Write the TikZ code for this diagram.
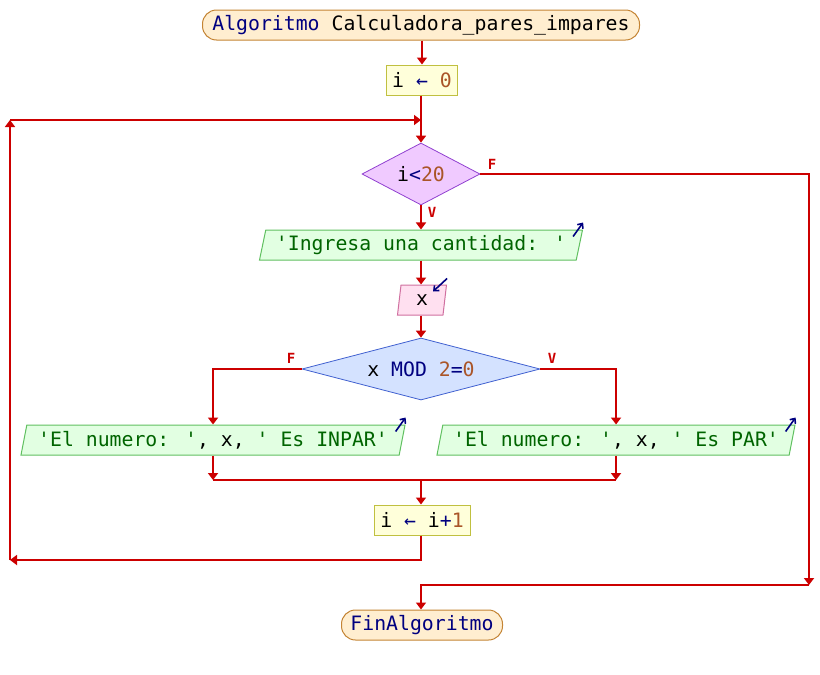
\documentclass[tikz,border=0pt]{standalone}
\usepackage{fontspec}
\usetikzlibrary{arrows.meta,shapes.geometric}
\newfontfamily\pmono{DejaVu Sans Mono}
\newcommand{\qs}{\textquotesingle}
\definecolor{flujo}{RGB}{204,0,0}
\definecolor{azul}{RGB}{0,0,128}
\definecolor{cafe}{RGB}{170,85,40}
\definecolor{verde}{RGB}{0,100,0}
\definecolor{termfondo}{RGB}{255,238,208}
\definecolor{termborde}{RGB}{196,132,52}
\definecolor{asigfondo}{RGB}{255,255,218}
\definecolor{asigborde}{RGB}{192,192,64}
\definecolor{condfondo}{RGB}{240,202,255}
\definecolor{condborde}{RGB}{144,64,208}
\definecolor{modfondo}{RGB}{212,226,255}
\definecolor{modborde}{RGB}{64,96,208}
\definecolor{salfondo}{RGB}{226,255,226}
\definecolor{salborde}{RGB}{96,192,96}
\definecolor{entfondo}{RGB}{255,224,240}
\definecolor{entborde}{RGB}{208,112,160}
\tikzstyle{flecha}=[draw=flujo,line width=2pt,-{Triangle[length=7pt,width=10pt]}]
\tikzstyle{linea}=[draw=flujo,line width=2pt]
\tikzstyle{term}=[rectangle,rounded corners=14pt,draw=termborde,fill=termfondo,line width=1pt,minimum height=30pt,inner sep=0pt]
\tikzstyle{asig}=[rectangle,draw=asigborde,fill=asigfondo,line width=1pt,minimum height=30pt,inner sep=0pt]
\tikzstyle{decis}=[diamond,line width=0.8pt,minimum height=62pt,inner sep=0pt]
\tikzstyle{paral}=[trapezium,trapezium left angle=72,trapezium right angle=108,trapezium stretches body,line width=1pt,minimum height=30pt,inner sep=0pt]
\tikzstyle{salida}=[paral,draw=salborde,fill=salfondo]
\tikzstyle{entrada}=[paral,draw=entborde,fill=entfondo]
\tikzstyle{marca}=[draw=azul,line width=1.6pt,-{Straight Barb[length=4pt,width=7pt]}]
\tikzstyle{etiq}=[text=flujo,font=\pmono\bfseries\fontsize{14}{14}\selectfont,inner sep=0pt]

\begin{document}
\begin{tikzpicture}[x=1pt,y=-1pt,font=\pmono\fontsize{19.8}{22}\selectfont]
\useasboundingbox (0,0) rectangle (820,675);
\node[term,minimum width=437pt] (inicio) at (421,25) {{\color{azul}Algoritmo} Calculadora\_pares\_impares};
\node[asig,minimum width=71pt] (i0) at (422,80) {i {\color{azul}←} {\color{cafe}0}};
\node[decis,aspect=1.9,draw=condborde,fill=condfondo,minimum width=118pt] (cond) at (421,174) {i{\color{azul}<}{\color{cafe}20}};
\node[salida,minimum width=323pt] (ing) at (421,245) {{\color{verde}\qs Ingresa una cantidad: \qs}};
\node[entrada,minimum width=49pt] (lee) at (422,300) {x};
\node[decis,aspect=3.84,draw=modborde,fill=modfondo,minimum width=238pt] (mod) at (421,369) {x {\color{azul}MOD} {\color{cafe}2}{\color{azul}=}{\color{cafe}0}};
\node[salida,minimum width=384pt] (inpar) at (213,440) {{\color{verde}\qs El numero: \qs}, x, {\color{verde}\qs{} Es INPAR\qs}};
\node[salida,minimum width=358pt] (par) at (616,440) {{\color{verde}\qs El numero: \qs}, x, {\color{verde}\qs{} Es PAR\qs}};
\node[asig,minimum width=96pt] (inc) at (422,520) {i {\color{azul}←} i{\color{azul}+}{\color{cafe}1}};
\node[term,minimum width=161pt] (fin) at (422,625) {{\color{azul}FinAlgoritmo}};
% etiquetas de las ramas
\node[etiq] (f1) at (492,164) {F};
\node[etiq] (v1) at (432,212) {V};
\node[etiq] (f2) at (291,358) {F};
\node[etiq] (v2) at (552,358) {V};
% puntos de paso
\coordinate (J) at (421,120);
\coordinate (U) at (421,480);
\coordinate (L1) at (10,560);
\coordinate (L2) at (10,120);
\coordinate (R) at (809,585);
% flujo principal
\draw[flecha] (inicio.south -| i0) -- (i0.north);
\draw[flecha] (i0.south -| cond) -- (cond.north);
\draw[flecha] (cond.south) -- (cond.south |- ing.north);
\draw[flecha] (ing.south) -- (ing.south |- lee.north);
\draw[flecha] (lee.south -| mod) -- (mod.north);
\draw[flecha] (mod.west) -| (inpar.north);
\draw[flecha] (mod.east) -| (par.north);
\draw[flecha] (inpar.south) -- (inpar.south |- U);
\draw[flecha] (par.south) -- (par.south |- U);
\draw[linea] (inpar.south |- U) -- (par.south |- U);
\draw[flecha] (U) -- (U |- inc.north);
% ciclo mientras
\draw[flecha] (inc.south -| U) |- (L1);
\draw[flecha] (L1) -- (L2);
\draw[flecha] (L2) -- (J);
\draw[flecha] (cond.east) -| (R);
\draw[flecha] (R) -| (fin.north -| U);
% marcas de lectura y escritura
\draw[marca] ([xshift=-10pt,yshift=-7pt]ing.top right corner) -- ([yshift=7pt]ing.top right corner);
\draw[marca] ([xshift=-10pt,yshift=-7pt]inpar.top right corner) -- ([yshift=7pt]inpar.top right corner);
\draw[marca] ([xshift=-10pt,yshift=-7pt]par.top right corner) -- ([yshift=7pt]par.top right corner);
\draw[marca] ([yshift=6pt]lee.top right corner) -- ([xshift=-14pt,yshift=-7pt]lee.top right corner);
\end{tikzpicture}
\end{document}
